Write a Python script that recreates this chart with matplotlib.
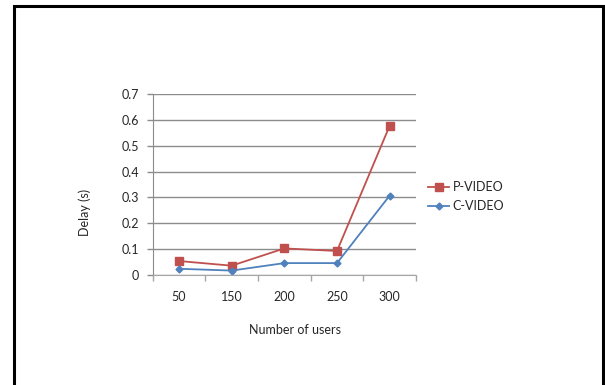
import numpy as np
import matplotlib
matplotlib.use("Agg")
import matplotlib.pyplot as plt
from matplotlib.patches import Rectangle

# -------- Data --------
users = ["50", "150", "200", "250", "300"]
p_video = [0.053, 0.035, 0.102, 0.092, 0.578]
c_video = [0.023, 0.016, 0.045, 0.045, 0.307]
y_ticks = [0, 0.1, 0.2, 0.3, 0.4, 0.5, 0.6, 0.7]

plt.rcParams['font.family'] = ['Lato', 'DejaVu Sans']
plt.rcParams['font.size'] = 9

red = '#C0504D'
blue = '#4F81BD'
grid_gray = '#8C8C8C'
text_col = '#262626'

fig = plt.figure(figsize=(6.05, 3.85), dpi=100)
ax = fig.add_axes([0.2524, 0.2865, 0.4352, 0.4686])

x = np.arange(len(users))
ax.plot(x, p_video, color=red, lw=1.3, marker='s', ms=5.5, label='P-VIDEO')
ax.plot(x, c_video, color=blue, lw=1.3, marker='D', ms=3.5, label='C-VIDEO')

# -------- Axes --------
ax.set_xlim(-0.5, len(users) - 0.5)
ax.set_ylim(0, 0.7)
ax.set_yticks(y_ticks)
ax.set_yticklabels(['0'] + [f'{v:.1f}' for v in y_ticks[1:]], color=text_col)
ax.set_xticks(x)
ax.set_xticklabels(users, color=text_col)
ax.set_xticks(np.arange(-0.5, len(users)), minor=True)

ax.tick_params(axis='x', which='major', length=0, pad=12)
ax.tick_params(axis='x', which='minor', length=4, width=1, color='#A6A6A6', direction='out')
ax.tick_params(axis='y', length=4, width=1, color=grid_gray, pad=6)

ax.yaxis.grid(True, color=grid_gray, lw=1)
ax.set_axisbelow(True)
for side in ['top', 'right']:
    ax.spines[side].set_visible(False)
ax.spines['left'].set_color(grid_gray)
ax.spines['bottom'].set_color('#A6A6A6')

fig.text(85 / 605, 1 - 212 / 385, 'Delay (s)', rotation=90, ha='center', va='center', color=text_col)
fig.text(295 / 605, 1 - 330 / 385, 'Number of users', ha='center', va='center', color=text_col)

ax.legend(loc='center left', bbox_to_anchor=(428 / 605, 1 - 196.5 / 385),
          bbox_transform=fig.transFigure, frameon=False, borderpad=0,
          borderaxespad=0, handlelength=1.7, handletextpad=0.25, labelspacing=0.55,
          labelcolor=text_col)

# -------- Frame --------
fig.patches.append(Rectangle((13.5 / 605, -0.1), (603 - 13.5) / 605, 1.1 - 5.7 / 385,
                             transform=fig.transFigure, fill=False, ec='black', lw=2.2))

fig.savefig('out.png', dpi=100)
